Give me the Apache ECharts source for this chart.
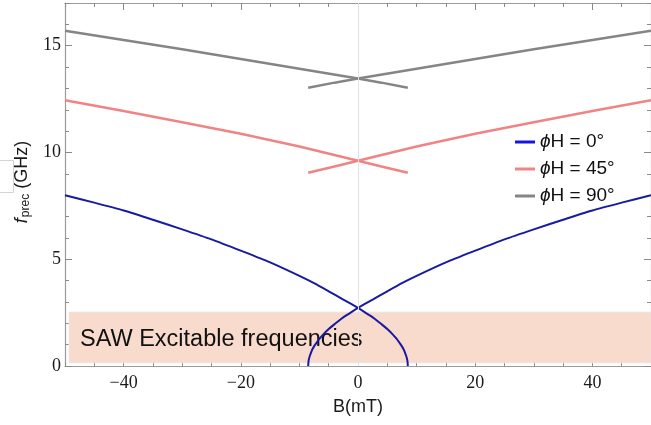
<!DOCTYPE html>
<html>
<head>
<meta charset="utf-8">
<script src="https://cdn.jsdelivr.net/npm/echarts@6/dist/echarts.min.js"></script>
<style>
  html, body { margin: 0; padding: 0; background: #fff; }
  #chart { width: 651px; height: 425px; }
</style>
</head>
<body>
<div id="chart"></div>
<script>
// Precession frequency branches (field in mT, frequency in GHz).
// Each list holds the branch that falls towards +B; the partner branch is its mirror in B.
const fieldBlue = [-50, -45, -40, -35, -30, -25, -20, -15, -10, -7.5, -5, -2.5, 0, 1, 2, 3, 4, 5, 6, 6.5, 7, 7.5, 7.8, 8.0, 8.2, 8.35, 8.45, 8.5];
const freqBlue  = [8.00, 7.65, 7.28, 6.85, 6.40, 5.93, 5.40, 4.85, 4.22, 3.88, 3.50, 3.11, 2.72, 2.55, 2.37, 2.18, 1.96, 1.73, 1.46, 1.30, 1.12, 0.92, 0.77, 0.64, 0.49, 0.35, 0.21, 0];

const fieldRed = [-50, -40, -30, -20, -10, 0, 4, 8.5];
const freqRed  = [12.45, 11.94, 11.42, 10.88, 10.28, 9.61, 9.34, 9.05];

const fieldGray = [-50, -40, -30, -20, -10, 0, 4, 8.5];
const freqGray  = [15.70, 15.27, 14.83, 14.38, 13.92, 13.46, 13.27, 13.03];

const seriesNames = ['ϕH = 0°', 'ϕH = 45°', 'ϕH = 90°'];

// SAW excitable band: [B start, f low] .. [B end, f high]
const sawBand = [[-49.3, 0.15], [50, 2.52]];
const sawLabel = 'SAW Excitable frequencies';

const xMajor = [-40, -20, 0, 20, 40];
const yMajor = [0, 5, 10, 15];

const pairs = (xs, ys) => xs.map((x, i) => [x, ys[i]]);
const mirrored = (xs, ys) => xs.map((x, i) => [-x, ys[i]]);

const lineColors = ['#1a1aa0', '#f08484', '#858585'];
const legendColors = ['#1414e6', '#f08484', '#858585'];
const lineWidths = [2, 2.5, 2.5];

const frameColor = '#9a9a9a';
const tickColor = '#8a8a8a';

const SERIF = 'Liberation Serif';
const SANS = 'Liberation Sans';

function branch(name, data, idx) {
  return {
    type: 'line', name, data, z: 3,
    showSymbol: false, symbol: 'none', silent: true,
    smooth: idx === 0 ? 0.25 : false,
    lineStyle: { color: lineColors[idx], width: lineWidths[idx] },
    itemStyle: { color: legendColors[idx] }
  };
}

const chart = echarts.init(document.getElementById('chart'), null, { renderer: 'canvas' });

const minus = v => String(v).replace('-', '\u2212');

const xCommon = { type: 'value', min: -50, max: 50, gridIndex: 0 };
const yCommon = { type: 'value', min: 0, max: 17, gridIndex: 0 };

const option = {
  animation: false,
  backgroundColor: '#fff',
  textStyle: { fontFamily: SANS },
  grid: { left: 65, right: 0, top: 3, bottom: 59, containLabel: false },
  xAxis: [
    // bottom frame with labels and long ticks
    Object.assign({}, xCommon, {
      position: 'bottom',
      name: 'B(mT)', nameLocation: 'middle', nameGap: 32,
      nameTextStyle: { fontFamily: SANS, fontSize: 18, color: '#1a1a1a' },
      axisLine: { show: true, onZero: false, lineStyle: { color: frameColor, width: 1.2 } },
      axisTick: { show: true, inside: true, length: 7, customValues: xMajor, lineStyle: { color: tickColor } },
      axisLabel: { show: true, customValues: xMajor, margin: 8, formatter: minus,
        fontFamily: SERIF, fontSize: 18, color: '#1a1a1a' },
      splitLine: { show: false }
    }),
    // bottom short ticks
    Object.assign({}, xCommon, {
      position: 'bottom', interval: 5,
      axisLine: { show: false, onZero: false },
      axisTick: { show: true, inside: true, length: 4, lineStyle: { color: tickColor } },
      axisLabel: { show: false }, splitLine: { show: false }
    }),
    // top frame
    Object.assign({}, xCommon, {
      position: 'top',
      axisLine: { show: true, onZero: false, lineStyle: { color: frameColor, width: 1.2 } },
      axisTick: { show: true, inside: true, length: 7, customValues: xMajor, lineStyle: { color: tickColor } },
      axisLabel: { show: false }, splitLine: { show: false }
    }),
    Object.assign({}, xCommon, {
      position: 'top', interval: 5,
      axisLine: { show: false, onZero: false },
      axisTick: { show: true, inside: true, length: 4, lineStyle: { color: tickColor } },
      axisLabel: { show: false }, splitLine: { show: false }
    })
  ],
  yAxis: [
    Object.assign({}, yCommon, {
      position: 'left',
      axisLine: { show: true, onZero: false, lineStyle: { color: frameColor, width: 1.2 } },
      axisTick: { show: true, inside: true, length: 7, customValues: yMajor, lineStyle: { color: tickColor } },
      axisLabel: { show: true, customValues: yMajor, margin: 4,
        fontFamily: SERIF, fontSize: 18, color: '#1a1a1a' },
      splitLine: { show: false }
    }),
    Object.assign({}, yCommon, {
      position: 'left', interval: 1,
      axisLine: { show: false, onZero: false },
      axisTick: { show: true, inside: true, length: 4, lineStyle: { color: tickColor } },
      axisLabel: { show: false }, splitLine: { show: false }
    }),
    Object.assign({}, yCommon, {
      position: 'right',
      axisLine: { show: true, onZero: false, lineStyle: { color: frameColor, width: 1.2 } },
      axisTick: { show: true, inside: true, length: 7, customValues: yMajor, lineStyle: { color: tickColor } },
      axisLabel: { show: false }, splitLine: { show: false }
    }),
    Object.assign({}, yCommon, {
      position: 'right', interval: 1,
      axisLine: { show: false, onZero: false },
      axisTick: { show: true, inside: true, length: 4, lineStyle: { color: tickColor } },
      axisLabel: { show: false }, splitLine: { show: false }
    })
  ],
  legend: {
    orient: 'vertical',
    left: 510, top: 127,
    itemWidth: 20, itemHeight: 3, itemGap: 7,
    icon: 'rect',
    data: seriesNames.map((n, i) => ({ name: n, itemStyle: { color: legendColors[i] } })),
    formatter: n => '{i|ϕ}{t|' + n.slice(1) + '}',
    textStyle: {
      color: '#111', fontFamily: SANS, fontSize: 19, lineHeight: 20,
      rich: {
        i: { fontStyle: 'italic', fontFamily: SANS, fontSize: 19, color: '#111' },
        t: { fontFamily: SANS, fontSize: 19, color: '#111' }
      }
    },
    selectedMode: false
  },
  series: [
    {
      // background band and B = 0 guide
      type: 'line', data: [], z: 1, silent: true, showSymbol: false,
      markArea: {
        silent: true,
        itemStyle: { color: '#f8dbcd', borderColor: '#ebe3de', borderWidth: 1 },
        label: { show: false },
        data: [[{ name: sawLabel, coord: sawBand[0] }, { coord: sawBand[1] }]]
      },
      markLine: {
        silent: true, symbol: 'none',
        label: { show: false },
        lineStyle: { color: '#e2e2e2', width: 1, type: 'solid' },
        data: [{ xAxis: 0 }]
      }
    },
    branch(seriesNames[0], pairs(fieldBlue, freqBlue), 0),
    branch(seriesNames[0], mirrored(fieldBlue, freqBlue), 0),
    branch(seriesNames[1], pairs(fieldRed, freqRed), 1),
    branch(seriesNames[1], mirrored(fieldRed, freqRed), 1),
    branch(seriesNames[2], pairs(fieldGray, freqGray), 2),
    branch(seriesNames[2], mirrored(fieldGray, freqGray), 2)
  ],
  graphic: [
    {
      // band caption
      type: 'text', left: 80, top: 328, z: 2,
      style: { text: sawLabel, fontFamily: SANS, fontSize: 23.5, fill: '#111' }
    },
    {
      // y-axis title, rotated
      type: 'text', x: 22, y: 182, rotation: Math.PI / 2,
      style: {
        text: '{f|f}{s|prec}{t| (GHz)}',
        align: 'center', verticalAlign: 'middle',
        rich: {
          f: { fontFamily: SANS, fontStyle: 'italic', fontSize: 18, fill: '#1a1a1a' },
          s: { fontFamily: SANS, fontSize: 12, fill: '#1a1a1a', padding: [8, 0, 0, 1] },
          t: { fontFamily: SANS, fontSize: 18, fill: '#1a1a1a' }
        }
      }
    },
    {
      type: 'rect', left: -10, top: 158,
      shape: { width: 21, height: 32 },
      style: { fill: 'none', stroke: '#d4d4d4', lineWidth: 1 }
    }
  ]
};

chart.setOption(option);
</script>
</body>
</html>
